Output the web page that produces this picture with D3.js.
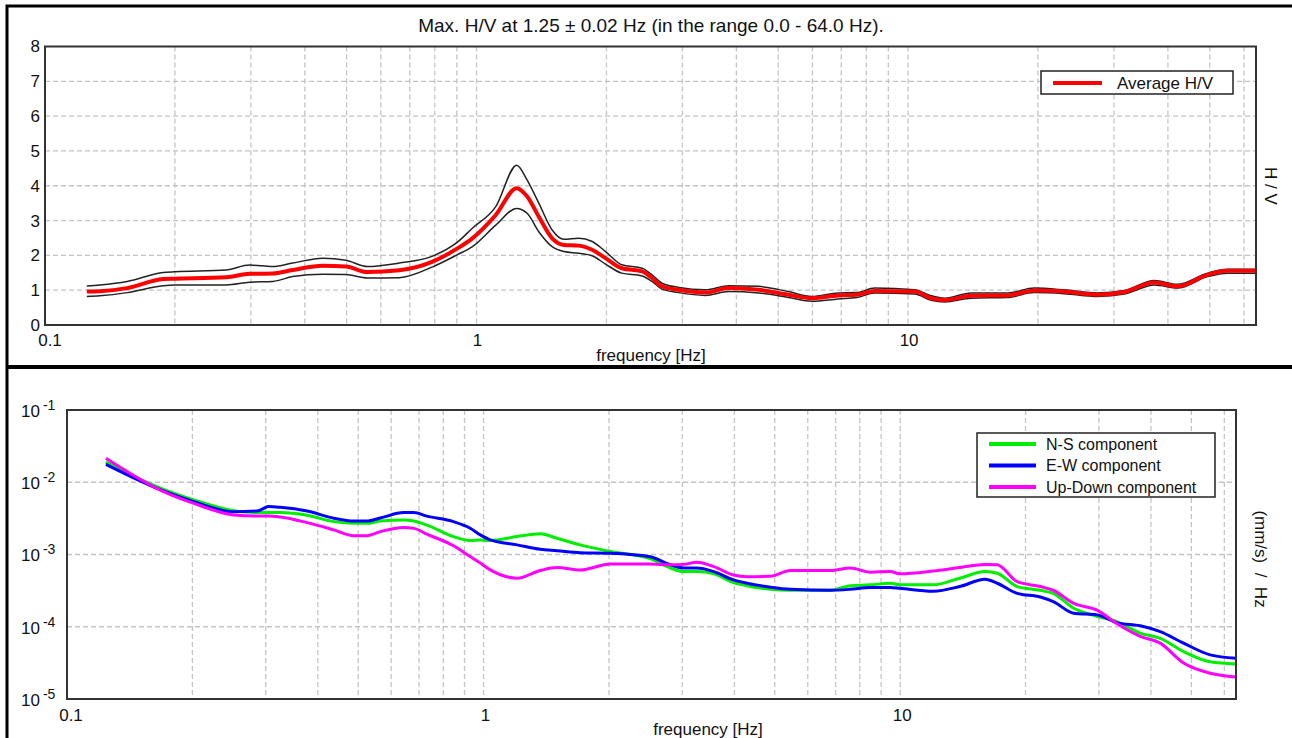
<!DOCTYPE html>
<html>
<head>
<meta charset="utf-8">
<script src="https://cdn.jsdelivr.net/npm/d3@7"></script>
<style>
  body { margin: 0; background: #fff; }
  svg { display: block; font-family: "Liberation Sans", Arial, sans-serif; }
  .grid line { stroke: #c4c4c4; stroke-width: 1.3; stroke-dasharray: 5,3; }
  text { fill: #111; }
</style>
</head>
<body>
<div id="chart"></div>
<script>
// H/V curve (top panel)
const hvFreq = [0.125, 0.134, 0.155, 0.188, 0.2, 0.263, 0.298, 0.337, 0.375, 0.44, 0.498, 0.559, 0.662, 0.791,
  0.903, 0.978, 1.108, 1.239, 1.31, 1.394, 1.497, 1.594, 1.726, 1.853, 1.99, 2.17, 2.42, 2.55, 2.69, 2.94,
  3.39, 3.84, 4.5, 5.28, 5.98, 6.89, 7.6, 8.37, 10.36, 11.3, 12.16, 14.0, 17.0, 19.6, 23.0, 27.5, 31.7,
  37.2, 42.1, 49.4, 55, 64];
const hvAvg = [0.96, 0.97, 1.06, 1.32, 1.33, 1.37, 1.47, 1.48, 1.58, 1.70, 1.68, 1.52, 1.57, 1.82,
  2.20, 2.49, 3.16, 3.93, 3.69, 3.11, 2.49, 2.30, 2.28, 2.16, 1.92, 1.63, 1.54, 1.35, 1.11, 1.01,
  0.93, 1.06, 1.01, 0.87, 0.77, 0.85, 0.87, 0.98, 0.96, 0.77, 0.72, 0.84, 0.85, 0.99, 0.96, 0.87, 0.95,
  1.22, 1.11, 1.44, 1.56, 1.56];
const hvHigh = [1.12, 1.15, 1.25, 1.51, 1.53, 1.58, 1.72, 1.68, 1.78, 1.92, 1.86, 1.68, 1.78, 1.98,
  2.38, 2.78, 3.40, 4.59, 4.16, 3.50, 2.73, 2.46, 2.49, 2.40, 2.11, 1.73, 1.63, 1.44, 1.20, 1.08,
  1.01, 1.13, 1.11, 0.96, 0.82, 0.92, 0.93, 1.06, 1.01, 0.84, 0.77, 0.92, 0.92, 1.06, 1.01, 0.92, 0.99,
  1.28, 1.17, 1.49, 1.60, 1.60];
const hvLow = [0.82, 0.84, 0.93, 1.13, 1.15, 1.15, 1.23, 1.25, 1.39, 1.46, 1.45, 1.35, 1.36, 1.67,
  2.02, 2.25, 2.87, 3.35, 3.21, 2.68, 2.25, 2.11, 2.06, 1.99, 1.75, 1.49, 1.41, 1.25, 1.03, 0.93,
  0.85, 0.96, 0.92, 0.79, 0.68, 0.75, 0.79, 0.92, 0.89, 0.71, 0.66, 0.77, 0.79, 0.93, 0.90, 0.82, 0.89,
  1.15, 1.06, 1.39, 1.49, 1.49];

// spectra (bottom panel)
const spFreq = [0.124, 0.1675, 0.2015, 0.251, 0.286, 0.305, 0.325, 0.377, 0.437, 0.488, 0.525, 0.565, 0.643,
  0.68, 0.731, 0.847, 0.929, 0.982, 1.038, 1.203, 1.368, 1.5, 1.706, 2.015, 2.51, 2.81, 3.02, 3.25, 3.57,
  3.98, 4.29, 4.88, 5.45, 6.8, 7.59, 8.48, 9.47, 10, 12.0, 13.9, 16.0, 17.1, 19.1, 21.7, 23.3, 26.1, 29.7,
  33.1, 37.7, 42.1, 47.9, 55.5, 64];
const spNS = [0.019, 0.0083, 0.0057, 0.00405, 0.0038, 0.0038, 0.0038, 0.0035, 0.00285, 0.0027, 0.0027, 0.0029, 0.0030,
  0.0029, 0.00255, 0.00177, 0.00156, 0.00159, 0.00156, 0.00177, 0.00193, 0.00168, 0.00136, 0.0011, 0.00088, 0.00065, 0.00058, 0.00058, 0.00054,
  0.00041, 0.00037, 0.00033, 0.00032, 0.00032, 0.00037, 0.00038, 0.0004, 0.00038, 0.00038, 0.00047, 0.00058, 0.00055, 0.00036, 0.00032, 0.00029, 0.00018, 0.00014,
  0.000118, 0.0000817, 0.000069, 0.0000454, 0.0000327, 0.0000305];
const spEW = [0.0177, 0.0079, 0.0054, 0.0039, 0.0040, 0.0046, 0.0045, 0.0040, 0.00318, 0.0029, 0.0029, 0.0032, 0.0038,
  0.0038, 0.0034, 0.00285, 0.00231, 0.00187, 0.00159, 0.00136, 0.00118, 0.00113, 0.00106, 0.00104, 0.00093, 0.00072, 0.00065, 0.00065, 0.00058,
  0.000446, 0.0004, 0.000353, 0.00033, 0.00032, 0.00033, 0.00035, 0.00035, 0.00034, 0.00031, 0.00036, 0.000455, 0.0004, 0.00029, 0.000258, 0.000223, 0.000154, 0.000146,
  0.000114, 0.000103, 0.0000855, 0.0000593, 0.0000408, 0.0000367];
const spUD = [0.0215, 0.0078, 0.0051, 0.00353, 0.0034, 0.0034, 0.0033, 0.00276, 0.00219, 0.00182, 0.00182, 0.00207, 0.00236,
  0.0023, 0.00191, 0.00132, 0.000935, 0.00076, 0.000612, 0.00047, 0.0006, 0.00066, 0.00061, 0.00074, 0.00074, 0.00072, 0.00073, 0.00078, 0.00068,
  0.00052, 0.000494, 0.0005, 0.0006, 0.0006, 0.00065, 0.00057, 0.00058, 0.00054, 0.00059, 0.00066, 0.00073, 0.00072, 0.00042, 0.00036, 0.00032, 0.00021, 0.00017,
  0.000111, 0.0000737, 0.0000593, 0.0000314, 0.0000227, 0.0000201];

const xTickLabels = ['0.1', '1', '10'];
const xTickValues = [0.1, 1, 10];
const hvYTicks = [0, 1, 2, 3, 4, 5, 6, 7, 8];
const spYExponents = [-1, -2, -3, -4, -5];

const titleText = 'Max. H/V at 1.25 \u00b1 0.02 Hz (in the range 0.0 - 64.0 Hz).';
const spSeries = [
  {name: 'N-S component', color: '#00ee00', values: spNS},
  {name: 'E-W component', color: '#0000ff', values: spEW},
  {name: 'Up-Down component', color: '#ff00ff', values: spUD}
];

const W = 1292, H = 738;
const svg = d3.select('#chart').append('svg').attr('width', W).attr('height', H);

// minor grid frequencies 0.2..60 (decade multiples)
const gridFreqs = [];
[0.1, 1, 10].forEach(function(d) {
  for (let k = 1; k <= 9; k++) { if (d * k > 0.1 && d * k < 64) gridFreqs.push(d * k); }
});

// ---------- top panel ----------
const hvBox = {left: 45, right: 1256, top: 46.5, bottom: 325};
const x1 = d3.scaleLog().domain([0.1, 64]).range([hvBox.left, hvBox.right]);
const y1 = d3.scaleLinear().domain([0, 8]).range([hvBox.bottom, hvBox.top]);

const g1 = svg.append('g');
const grid1 = g1.append('g').attr('class', 'grid');
grid1.selectAll('.v').data(gridFreqs).enter().append('line')
  .attr('x1', d => x1(d)).attr('x2', d => x1(d)).attr('y1', hvBox.top).attr('y2', hvBox.bottom);
grid1.selectAll('.h').data(hvYTicks.slice(1, -1)).enter().append('line')
  .attr('x1', hvBox.left).attr('x2', hvBox.right).attr('y1', d => y1(d)).attr('y2', d => y1(d));

const hvLine = function(vals) {
  return d3.line().x((d, i) => x1(hvFreq[i])).y(d => y1(d)).curve(d3.curveMonotoneX)(vals);
};
g1.append('path').attr('d', hvLine(hvHigh)).attr('fill', 'none').attr('stroke', '#222').attr('stroke-width', 1.5);
g1.append('path').attr('d', hvLine(hvLow)).attr('fill', 'none').attr('stroke', '#222').attr('stroke-width', 1.5);
g1.append('path').attr('d', hvLine(hvAvg)).attr('fill', 'none').attr('stroke', '#ff0000').attr('stroke-width', 4);

g1.append('rect').attr('x', hvBox.left).attr('y', hvBox.top)
  .attr('width', hvBox.right - hvBox.left).attr('height', hvBox.bottom - hvBox.top)
  .attr('fill', 'none').attr('stroke', '#333').attr('stroke-width', 2);

g1.selectAll('.yl').data(hvYTicks).enter().append('text')
  .attr('x', 40).attr('y', d => y1(d)).attr('dy', '0.35em')
  .attr('text-anchor', 'end').attr('font-size', 17).text(d => d);
g1.selectAll('.xl').data(xTickValues).enter().append('text')
  .attr('x', (d, i) => x1(d) + (i === 0 ? 5 : 1)).attr('y', 346)
  .attr('text-anchor', 'middle').attr('font-size', 17).text((d, i) => xTickLabels[i]);
g1.append('text').attr('x', 651).attr('y', 361).attr('text-anchor', 'middle')
  .attr('font-size', 17).text('frequency [Hz]');
g1.append('text').attr('x', 651).attr('y', 32).attr('text-anchor', 'middle')
  .attr('font-size', 19).text(titleText);
g1.append('text').attr('transform', 'translate(1265,186) rotate(90)')
  .attr('text-anchor', 'middle').attr('font-size', 17).style('white-space', 'pre').text('H / V');

// legend top
const lg1 = g1.append('g').attr('transform', 'translate(1041,71)');
lg1.append('rect').attr('width', 192).attr('height', 23).attr('fill', '#fff')
  .attr('stroke', '#222').attr('stroke-width', 1.5);
lg1.append('line').attr('x1', 12).attr('x2', 61).attr('y1', 12).attr('y2', 12)
  .attr('stroke', '#ff0000').attr('stroke-width', 4);
lg1.append('text').attr('x', 76).attr('y', 12).attr('dy', '0.35em').attr('font-size', 17).text('Average H/V');

// ---------- bottom panel ----------
const spBox = {left: 67, right: 1236, top: 410, bottom: 699};
const x2 = d3.scaleLog().domain([0.1, 64]).range([spBox.left, spBox.right]);
const y2 = d3.scaleLog().domain([1e-5, 1e-1]).range([spBox.bottom, spBox.top]);

const g2 = svg.append('g');
const grid2 = g2.append('g').attr('class', 'grid');
grid2.selectAll('.v').data(gridFreqs).enter().append('line')
  .attr('x1', d => x2(d)).attr('x2', d => x2(d)).attr('y1', spBox.top).attr('y2', spBox.bottom);
grid2.selectAll('.h').data(spYExponents.slice(1, -1)).enter().append('line')
  .attr('x1', spBox.left).attr('x2', spBox.right)
  .attr('y1', d => y2(Math.pow(10, d))).attr('y2', d => y2(Math.pow(10, d)));

spSeries.forEach(function(s) {
  g2.append('path')
    .attr('d', d3.line().x((d, i) => x2(spFreq[i])).y(d => y2(d)).curve(d3.curveMonotoneX)(s.values))
    .attr('fill', 'none').attr('stroke', s.color).attr('stroke-width', 3);
});

g2.append('rect').attr('x', spBox.left).attr('y', spBox.top)
  .attr('width', spBox.right - spBox.left).attr('height', spBox.bottom - spBox.top)
  .attr('fill', 'none').attr('stroke', '#333').attr('stroke-width', 2);

const yl2 = g2.selectAll('.yl').data(spYExponents).enter().append('text')
  .attr('x', 21).attr('y', d => y2(Math.pow(10, d))).attr('dy', '0.4em').attr('font-size', 17);
yl2.append('tspan').text('10');
yl2.append('tspan').attr('dx', 3).attr('dy', -7).attr('font-size', 14).text(d => d);

g2.selectAll('.xl').data(xTickValues).enter().append('text')
  .attr('x', (d, i) => x2(d) + (i === 0 ? 4 : 2)).attr('y', 721)
  .attr('text-anchor', 'middle').attr('font-size', 17).text((d, i) => xTickLabels[i]);
g2.append('text').attr('x', 708).attr('y', 735).attr('text-anchor', 'middle')
  .attr('font-size', 17).text('frequency [Hz]');
g2.append('text').attr('transform', 'translate(1255,559) rotate(90)')
  .attr('text-anchor', 'middle').attr('font-size', 17).style('white-space', 'pre').text('(mm/s)  /  Hz');

// legend bottom
const lg2 = g2.append('g').attr('transform', 'translate(977,433)');
lg2.append('rect').attr('width', 238).attr('height', 64).attr('fill', '#fff')
  .attr('stroke', '#222').attr('stroke-width', 1.5);
spSeries.forEach(function(s, i) {
  const yy = 11 + i * 21.5;
  lg2.append('line').attr('x1', 12).attr('x2', 59).attr('y1', yy).attr('y2', yy)
    .attr('stroke', s.color).attr('stroke-width', 4);
  lg2.append('text').attr('x', 69).attr('y', yy).attr('dy', '0.35em').attr('font-size', 16).text(s.name);
});

// ---------- outer frames ----------
svg.append('path').attr('d', 'M7,738 V6 H1292').attr('fill', 'none').attr('stroke', '#000').attr('stroke-width', 3);
svg.append('rect').attr('x', 7).attr('y', 365).attr('width', W - 7).attr('height', 4).attr('fill', '#000');
</script>
</body>
</html>
